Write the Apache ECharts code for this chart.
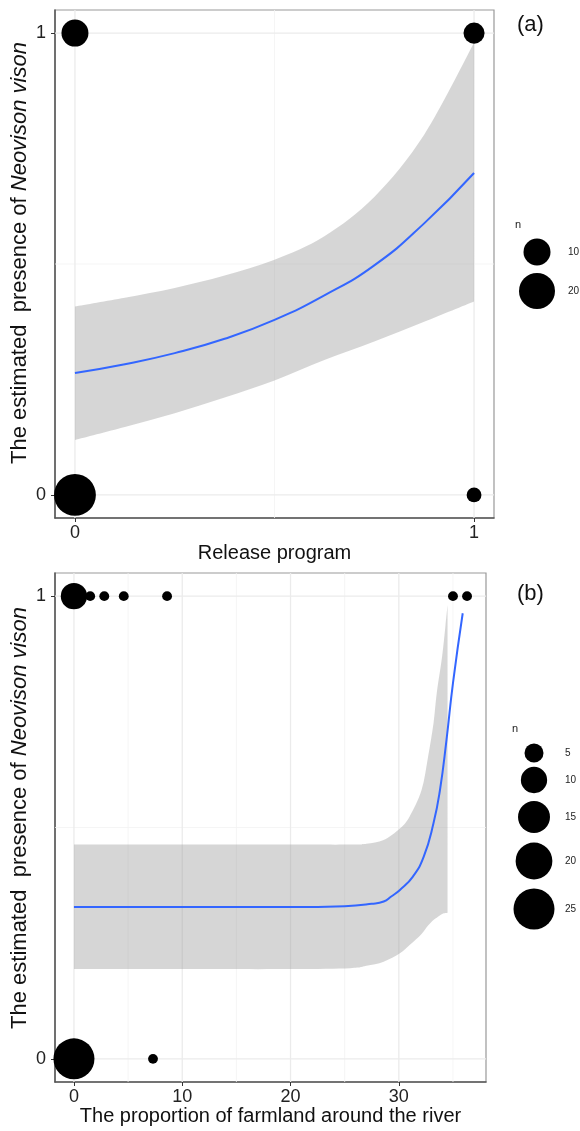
<!DOCTYPE html>
<html>
<head>
<meta charset="utf-8">
<script src="https://cdn.jsdelivr.net/npm/echarts@6/dist/echarts.min.js"></script>
<style>
  html, body { margin: 0; padding: 0; background: #fff; }
  #main { width: 580px; height: 1131px; }
</style>
</head>
<body>
<div id="main"></div>
<script>
// (a) presence vs release program
const releaseX = [0, 0.125, 0.25, 0.375, 0.5, 0.625, 0.75, 0.875, 1];
const releaseFit = [0.264, 0.283, 0.307, 0.338, 0.379, 0.432, 0.497, 0.588, 0.697];
const releaseUpper = [0.408, 0.427, 0.448, 0.475, 0.509, 0.56, 0.645, 0.78, 0.979];
const releaseLower = [0.119, 0.147, 0.177, 0.211, 0.248, 0.292, 0.332, 0.375, 0.419];
const releaseObsX = [0, 1, 0, 1];
const releaseObsY = [1, 1, 0, 0];
const releaseObsN = [10, 5, 28, 1];
const releaseTicks = [0, 1];
const legendA = [10, 20];

// (b) presence vs farmland proportion
const farmFitX = [0, 10, 20, 25, 27.5, 28.6, 29.3, 30.1, 31.3, 32.3, 33.2, 33.8, 34.4, 35.0, 35.9];
const farmFit = [0.328, 0.328, 0.328, 0.33, 0.335, 0.34, 0.351, 0.365, 0.394, 0.437, 0.509, 0.581, 0.689, 0.812, 0.963];
const farmBandX = [0, 10, 20, 25.5, 27, 28.6, 30.1, 31, 32.1, 32.7, 33.2, 33.5, 34, 34.3, 34.5];
const farmUpper = [0.463, 0.463, 0.463, 0.463, 0.465, 0.473, 0.498, 0.524, 0.581, 0.653, 0.725, 0.79, 0.87, 0.935, 0.981];
const farmLower = [0.194, 0.194, 0.194, 0.196, 0.201, 0.21, 0.228, 0.246, 0.27, 0.288, 0.3, 0.305, 0.313, 0.315, 0.316];
const farmObsX = [0, 1.5, 2.8, 4.6, 8.6, 35.0, 36.3, 0, 7.3];
const farmObsY = [1, 1, 1, 1, 1, 1, 1, 0, 0];
const farmObsN = [10, 1, 1, 1, 1, 1, 1, 25, 1];
const farmTicks = [0, 10, 20, 30];
const legendB = [5, 10, 15, 20, 25];

const yTicks = [0, 1];
const FONT = '"Liberation Sans", Arial, Helvetica, sans-serif';

// point diameters (area ~ n), one scale per panel
const sizeA = n => Math.sqrt(162 + 56.7 * n);
const sizeB = n => Math.sqrt(31 + 66 * n);

const main = document.getElementById('main');
const myChart = echarts.init(main);

// background grid lines: [dir (0 vertical / 1 horizontal), value, minor]
function gridData(xMajor, xMinor, yMajor, yMinor) {
    const d = [];
    xMinor.forEach(v => d.push([0, v, 1]));
    yMinor.forEach(v => d.push([1, v, 1]));
    xMajor.forEach(v => d.push([0, v, 0]));
    yMajor.forEach(v => d.push([1, v, 0]));
    return d;
}
function gridSeries(idx, xr, yr, data) {
    return {
        type: 'custom',
        xAxisIndex: idx,
        yAxisIndex: idx,
        silent: true,
        z: 1,
        data: data,
        renderItem: function (params, api) {
            const dir = api.value(0), v = api.value(1), minor = api.value(2);
            const p1 = dir === 0 ? api.coord([v, yr[0]]) : api.coord([xr[0], v]);
            const p2 = dir === 0 ? api.coord([v, yr[1]]) : api.coord([xr[1], v]);
            return {
                type: 'line',
                shape: { x1: p1[0], y1: p1[1], x2: p2[0], y2: p2[1] },
                style: { stroke: minor ? '#F2F2F2' : '#EBEBEB', lineWidth: minor ? 0.8 : 1.3 }
            };
        }
    };
}

// smooth svg path segment through pixel points (catmull-rom as cubic bezier)
function smoothPath(pts, first) {
    let d = (first ? 'M' : 'L') + pts[0][0] + ',' + pts[0][1];
    for (let i = 0; i < pts.length - 1; i++) {
        const p0 = pts[Math.max(i - 1, 0)], p1 = pts[i], p2 = pts[i + 1], p3 = pts[Math.min(i + 2, pts.length - 1)];
        const c1 = [p1[0] + (p2[0] - p0[0]) / 6, p1[1] + (p2[1] - p0[1]) / 6];
        const c2 = [p2[0] - (p3[0] - p1[0]) / 6, p2[1] - (p3[1] - p1[1]) / 6];
        d += 'C' + c1[0] + ',' + c1[1] + ' ' + c2[0] + ',' + c2[1] + ' ' + p2[0] + ',' + p2[1];
    }
    return d;
}
// confidence band as one filled path between lower and upper edges
function bandSeries(idx, xs, up, lo) {
    return {
        type: 'custom',
        xAxisIndex: idx,
        yAxisIndex: idx,
        silent: true,
        z: 2,
        data: [[xs[0], lo[0]]],
        renderItem: function (params, api) {
            const top = xs.map((x, i) => api.coord([x, up[i]]));
            const bot = xs.map((x, i) => api.coord([x, lo[i]])).reverse();
            const d = smoothPath(top, true) + smoothPath(bot, false) + 'Z';
            return {
                type: 'path',
                shape: { pathData: d },
                style: { fill: 'rgba(153,153,153,0.4)' }
            };
        }
    };
}

const xr = [-0.05, 1.05];
const xrB = [-1.75, 38.05];
const yr = [-0.05, 1.05];

function xAxisBase(idx, min, max, ticks, name, gap) {
    return {
        type: 'value', gridIndex: idx, min: min, max: max,
        name: name, nameLocation: 'middle', nameGap: gap,
        nameTextStyle: { fontFamily: FONT, fontSize: 20, color: '#111' },
        axisLine: { show: true, onZero: false, lineStyle: { color: '#555', width: 1.5 } },
        axisTick: { show: true, customValues: ticks, length: 4, lineStyle: { color: '#333' } },
        axisLabel: { customValues: ticks, margin: 6, fontFamily: FONT, fontSize: 18, color: '#222' },
        splitLine: { show: false }
    };
}
function yAxisBase(idx) {
    return {
        type: 'value', gridIndex: idx, min: yr[0], max: yr[1],
        axisLine: { show: true, onZero: false, lineStyle: { color: '#555', width: 1.5 } },
        axisTick: { show: true, customValues: yTicks, length: 4, lineStyle: { color: '#333' } },
        axisLabel: { customValues: yTicks, margin: 9, fontFamily: FONT, fontSize: 18, color: '#222' },
        splitLine: { show: false }
    };
}

// rotated y title with italic species name
function yTitle(cy) {
    return {
        type: 'text', x: 20, y: cy, rotation: Math.PI / 2,
        style: {
            text: 'The estimated  presence of {i|Neovison vison}',
            font: '22px ' + FONT, fill: '#111', align: 'center', verticalAlign: 'middle',
            rich: { i: { fontFamily: FONT, fontSize: 22, fontStyle: 'italic', fill: '#111' } }
        }
    };
}

// legend keys drawn as graphics
function legendGraphics(title, breaks, sizeFn, cx, ys, titleY) {
    const g = [{
        type: 'text', left: cx - 22, top: titleY - 7,
        style: { text: title, font: '11px ' + FONT, fill: '#222' }
    }];
    breaks.forEach((b, i) => {
        const r = sizeFn(b) / 2;
        g.push({ type: 'circle', shape: { cx: cx, cy: ys[i], r: r }, style: { fill: '#000' } });
        g.push({
            type: 'text', x: cx + 31, y: ys[i],
            style: { text: String(b), font: '10px ' + FONT, fill: '#222', verticalAlign: 'middle' }
        });
    });
    return g;
}

const option = {
    animation: false,
    backgroundColor: '#fff',
    grid: [
        { left: 55, top: 10, width: 439, height: 508, show: true, borderColor: '#999', borderWidth: 1.2, outerBoundsMode: 'none' },
        { left: 55, top: 573, width: 431, height: 509, show: true, borderColor: '#999', borderWidth: 1.2, outerBoundsMode: 'none' }
    ],
    xAxis: [
        xAxisBase(0, xr[0], xr[1], releaseTicks, 'Release program', 25),
        xAxisBase(1, xrB[0], xrB[1], farmTicks, 'The proportion of farmland around the river', 23)
    ],
    yAxis: [yAxisBase(0), yAxisBase(1)],
    graphic: [
        yTitle(253),
        yTitle(818),
        { type: 'text', left: 517, top: 14, style: { text: '(a)', font: '22px ' + FONT, fill: '#111' } },
        { type: 'text', left: 517, top: 583, style: { text: '(b)', font: '22px ' + FONT, fill: '#111' } }
    ].concat(
        legendGraphics('n', legendA, sizeA, 537, [252, 291], 226),
        legendGraphics('n', legendB, sizeB, 534, [753, 780, 817, 861, 909], 730)
    ),
    series: [
        gridSeries(0, xr, yr, gridData(releaseTicks, [0.5], yTicks, [0.5])),
        bandSeries(0, releaseX, releaseUpper, releaseLower),
        {
            type: 'line', xAxisIndex: 0, yAxisIndex: 0, z: 3, silent: true,
            showSymbol: false, smooth: true,
            lineStyle: { color: '#3366FF', width: 2 },
            data: releaseX.map((x, i) => [x, releaseFit[i]])
        },
        {
            type: 'scatter', xAxisIndex: 0, yAxisIndex: 0, z: 4, silent: true,
            itemStyle: { color: '#000', opacity: 1 },
            symbolSize: v => sizeA(v[2]),
            data: releaseObsX.map((x, i) => [x, releaseObsY[i], releaseObsN[i]])
        },
        gridSeries(1, xrB, yr, gridData(farmTicks, [5, 15, 25, 35], yTicks, [0.5])),
        bandSeries(1, farmBandX, farmUpper, farmLower),
        {
            type: 'line', xAxisIndex: 1, yAxisIndex: 1, z: 3, silent: true,
            showSymbol: false, smooth: 0.5,
            lineStyle: { color: '#3366FF', width: 2 },
            data: farmFitX.map((x, i) => [x, farmFit[i]])
        },
        {
            type: 'scatter', xAxisIndex: 1, yAxisIndex: 1, z: 4, silent: true,
            itemStyle: { color: '#000', opacity: 1 },
            symbolSize: v => sizeB(v[2]),
            data: farmObsX.map((x, i) => [x, farmObsY[i], farmObsN[i]])
        }
    ]
};

myChart.setOption(option);
</script>
</body>
</html>
